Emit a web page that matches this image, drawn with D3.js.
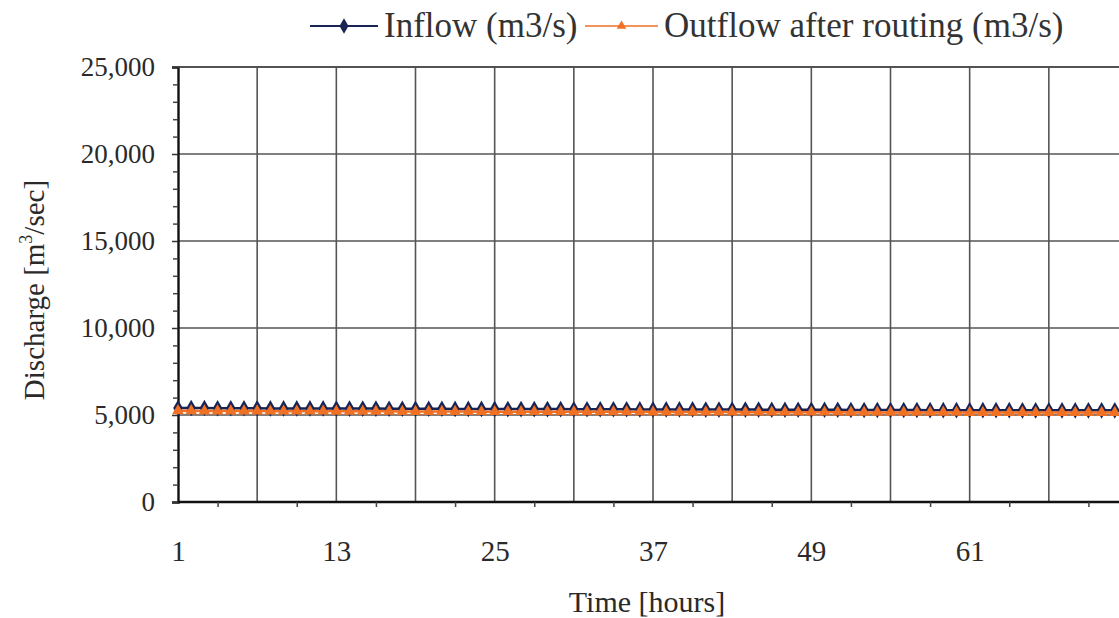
<!DOCTYPE html>
<html>
<head>
<meta charset="utf-8">
<title>Inflow and outflow</title>
<script src="https://d3js.org/d3.v7.min.js"></script>
<style>
body {
	margin: 0;
	background-color: white;
	font-family: "Liberation Serif", serif;
	overflow: hidden;
}
.grid line {
	stroke: #555;
	stroke-width: 1.6;
}
.tick text {
	font-family: "Liberation Serif", serif;
	fill: #2a2a2a;
}
</style>
</head>
<body>
<div id="chart"></div>
<script>
/* globals d3 */
(function() {
"use strict";

// discharge, one value per hour (m3/s)
const inflow = [
	5400, 5400, 5400, 5390, 5390, 5390, 5390, 5380, 5380, 5380, 5380, 5380,
	5370, 5370, 5370, 5370, 5360, 5360, 5360, 5360, 5360, 5350, 5350, 5350,
	5350, 5340, 5340, 5340, 5340, 5340, 5330, 5330, 5330, 5330, 5330, 5320,
	5320, 5320, 5320, 5320, 5310, 5310, 5310, 5310, 5310, 5300, 5300, 5300,
	5300, 5300, 5300, 5290, 5290, 5290, 5290, 5290, 5290, 5280, 5280, 5280,
	5280, 5280, 5280, 5280, 5270, 5270, 5270, 5270, 5270, 5270, 5270, 5270
];
const outflow = [
	5240, 5240, 5230, 5230, 5230, 5230, 5230, 5220, 5220, 5220, 5220, 5220,
	5210, 5210, 5210, 5210, 5210, 5200, 5200, 5200, 5200, 5200, 5200, 5190,
	5190, 5190, 5190, 5190, 5190, 5180, 5180, 5180, 5180, 5180, 5180, 5180,
	5170, 5170, 5170, 5170, 5170, 5170, 5170, 5160, 5160, 5160, 5160, 5160,
	5160, 5160, 5160, 5150, 5150, 5150, 5150, 5150, 5150, 5150, 5150, 5150,
	5140, 5140, 5140, 5140, 5140, 5140, 5140, 5140, 5140, 5140, 5140, 5140
];
const xLabels = [1, 13, 25, 37, 49, 61];
const xGrid = [1, 7, 13, 19, 25, 31, 37, 43, 49, 55, 61, 67];
const xMinor = [4, 10, 16, 22, 28, 34, 40, 46, 52, 58, 64, 70];
const yTicks = [0, 5000, 10000, 15000, 20000, 25000];
const yMinor = [1000, 2000, 3000, 4000, 6000, 7000, 8000, 9000, 11000, 12000, 13000, 14000,
	16000, 17000, 18000, 19000, 21000, 22000, 23000, 24000];

const W = 1119, H = 618;
const margin = {top: 67, left: 178, bottom: 116, right: 0};
const width = 950, height = H - margin.top - margin.bottom;

const x = d3.scaleLinear([1, 73], [0, width]);
const y = d3.scaleLinear([0, 25000], [height, 0]);
const fmt = d3.format(",");

const svg = d3.select("#chart").append("svg")
	.attr("width", W)
	.attr("height", H);

const g = svg.append("g")
	.attr("transform", "translate(" + margin.left + "," + margin.top + ")");

// grid
g.append("g")
	.attr("class", "grid")
	.selectAll("line")
	.data(yTicks.slice(1))
	.join("line")
	.attr("x1", 0).attr("x2", W)
	.attr("y1", d => y(d)).attr("y2", d => y(d));
g.append("g")
	.attr("class", "grid")
	.selectAll("line")
	.data(xGrid.slice(1))
	.join("line")
	.attr("x1", d => x(d)).attr("x2", d => x(d))
	.attr("y1", 0).attr("y2", height);

// y axis
const yAxis = d3.axisLeft(y).tickValues(yTicks).tickFormat(fmt).tickSize(6).tickPadding(17);
const gy = g.append("g").call(yAxis);
gy.selectAll(".tick text").attr("font-size", 27);
gy.select(".domain").attr("stroke", "#111").attr("stroke-width", 2.4);
gy.selectAll(".tick line").attr("stroke", "#333").attr("stroke-width", 1.5);
g.append("g").call(d3.axisLeft(y).tickValues(yMinor).tickFormat("").tickSize(5))
	.call(s => s.select(".domain").remove())
	.selectAll(".tick line").attr("stroke", "#444").attr("stroke-width", 1.5);

// x axis
const xAxis = d3.axisBottom(x).tickValues(xLabels).tickFormat(d3.format("d")).tickSize(0).tickPadding(38);
const gx = g.append("g").attr("transform", "translate(0," + height + ")").call(xAxis);
gx.selectAll(".tick text").attr("font-size", 29);
gx.select(".domain").remove();
g.append("line")
	.attr("x1", 0).attr("x2", W).attr("y1", height).attr("y2", height)
	.attr("stroke", "#111").attr("stroke-width", 2.4);
g.append("g").attr("transform", "translate(0," + height + ")")
	.call(d3.axisBottom(x).tickValues(xMinor).tickFormat("").tickSize(5))
	.call(s => s.select(".domain").remove())
	.selectAll(".tick line").attr("stroke", "#444").attr("stroke-width", 1.5);

// top border
g.append("line")
	.attr("x1", 0).attr("x2", W).attr("y1", 0).attr("y2", 0)
	.attr("stroke", "#444").attr("stroke-width", 1.6);

// series
const inflowColor = "#182454", outflowColor = "#f07024";
const line = d3.line().x((d, i) => x(i + 1)).y(d => y(d));

g.append("path").datum(inflow)
	.attr("fill", "none").attr("stroke", inflowColor).attr("stroke-width", 2.5)
	.attr("d", line);
g.selectAll(".inMark").data(inflow).join("path")
	.attr("class", "inMark")
	.attr("fill", inflowColor)
	.attr("transform", (d, i) => "translate(" + x(i + 1) + "," + y(d) + ")")
	.attr("d", d3.symbol(d3.symbolDiamond, 80));

g.append("path").datum(outflow)
	.attr("fill", "none").attr("stroke", outflowColor).attr("stroke-width", 2.5)
	.attr("d", line);
g.selectAll(".outMark").data(outflow).join("path")
	.attr("class", "outMark")
	.attr("fill", outflowColor)
	.attr("transform", (d, i) => "translate(" + x(i + 1) + "," + y(d) + ")")
	.attr("d", d3.symbol(d3.symbolTriangle, 60));

// axis titles
svg.append("text")
	.attr("x", 647).attr("y", 612)
	.attr("text-anchor", "middle")
	.attr("font-size", 30).attr("fill", "#2a2a2a")
	.text("Time [hours]");

const yt = svg.append("text")
	.attr("transform", "translate(44,290) rotate(-90)")
	.attr("text-anchor", "middle")
	.attr("font-size", 29).attr("fill", "#2a2a2a");
yt.append("tspan").text("Discharge [m");
yt.append("tspan").attr("font-size", 18).attr("dy", -12).text("3");
yt.append("tspan").attr("dy", 12).text("/sec]");

// legend
const legend = [
	{name: "Inflow (m3/s)", color: inflowColor, sym: d3.symbolDiamond, size: 70, x: 310, w: 68, sw: 2.2},
	{name: "Outflow after routing (m3/s)", color: outflowColor, sym: d3.symbolTriangle, size: 40, x: 585, w: 73, sw: 1.4}
];
const lg = svg.append("g").selectAll("g").data(legend).join("g")
	.attr("transform", d => "translate(" + d.x + ",26)");
lg.append("line")
	.attr("x1", 0).attr("x2", d => d.w).attr("y1", 0).attr("y2", 0)
	.attr("stroke", d => d.color).attr("stroke-width", d => d.sw);
lg.append("path")
	.attr("transform", d => "translate(" + d.w / 2 + ",0)")
	.attr("fill", d => d.color)
	.attr("d", d => d3.symbol(d.sym, d.size)());
lg.append("text")
	.attr("x", d => d.w + 6).attr("y", 11)
	.attr("font-size", 35).attr("fill", "#333")
	.text(d => d.name);
})();
</script>
</body>
</html>
